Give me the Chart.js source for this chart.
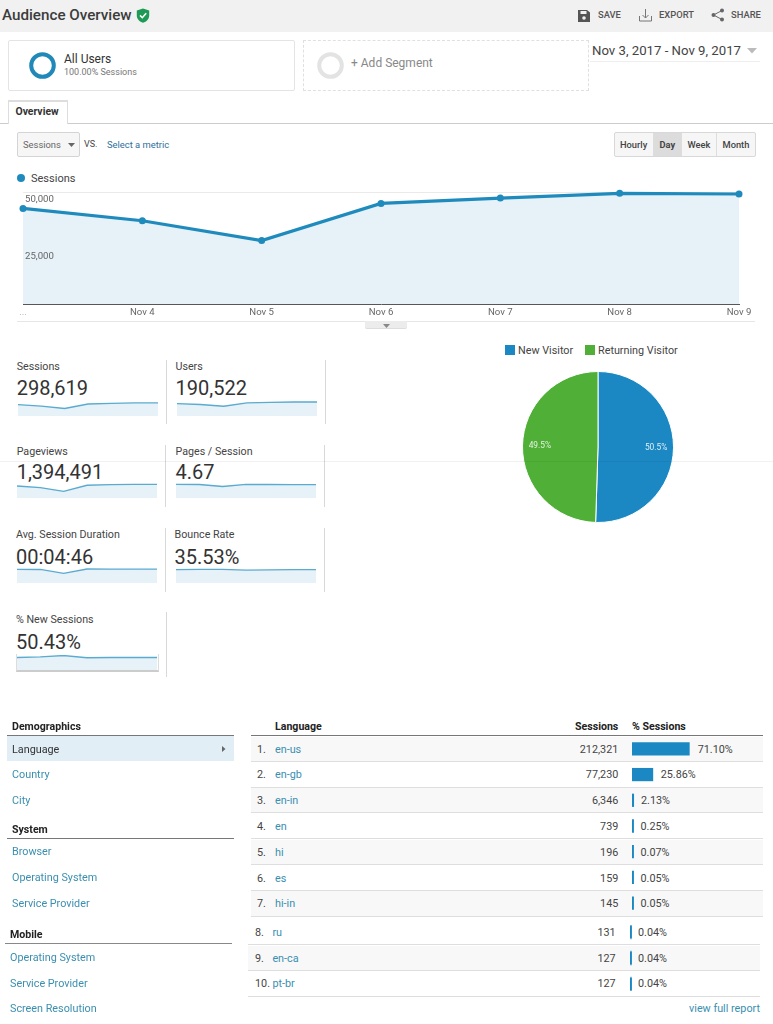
<!DOCTYPE html>
<html>
<head>
<meta charset="utf-8">
<script src="https://cdn.jsdelivr.net/npm/chart.js@4/dist/chart.umd.min.js"></script>
<style>
html,body{margin:0;padding:0;background:#fff;width:773px;height:1024px;overflow:hidden;font-family:Roboto,sans-serif;color:#333}
#page{position:relative;width:773px;height:1024px;overflow:hidden}
.t{position:absolute;white-space:nowrap;transform:translateY(-50%);line-height:1}
.r{transform:translate(-100%,-50%)}
.b{position:absolute;box-sizing:border-box}
canvas{position:absolute;display:block}
svg{position:absolute}
</style>
</head>
<body>
<div id="page"></div>
<script>
// ---------- data ----------
const dayLabels = ['...', 'Nov 4', 'Nov 5', 'Nov 6', 'Nov 7', 'Nov 8', 'Nov 9'];
const sessionsByDay = [42700, 37200, 28400, 44900, 47300, 49400, 49100];
const sessionTicks = [25000, 50000];

const usersByDay = [26400, 24500, 20700, 27800, 29000, 29800, 29700];
const pageviewsByDay = [203000, 175000, 113000, 215000, 226000, 231000, 231000];
const pagesPerSessionByDay = [4.76, 4.72, 4.0, 4.78, 4.70, 4.68, 4.68];
const durationByDay = [292, 290, 205, 298, 296, 296, 297];
const bounceByDay = [35.5, 36.2, 36.4, 34.2, 35.0, 35.6, 35.6];
const newSessionsByDay = [50, 52, 57, 49, 50, 50, 50];

const visitorTypes = ['New Visitor', 'Returning Visitor'];
const visitorShares = [50.5, 49.5];

const languages = ['en-us','en-gb','en-in','en','hi','es','hi-in','ru','en-ca','pt-br'];
const languageSessions = ['212,321','77,230','6,346','739','196','159','145','131','127','127'];
const languageShares = [71.10, 25.86, 2.13, 0.25, 0.07, 0.05, 0.05, 0.04, 0.04, 0.04];

// ---------- helpers ----------
const page = document.getElementById('page');
const BLUE = '#1f8bbd', BAR = '#1b88c4', GREEN = '#50af37', LINK = '#3a8fb0';
function T(x, y, s, css, right) {
  const e = document.createElement('div');
  e.className = 't' + (right ? ' r' : '');
  e.textContent = s;
  e.style.left = x + 'px'; e.style.top = y + 'px';
  e.style.cssText += ';' + (css || '');
  page.appendChild(e); return e;
}
function B(x, y, w, h, css) {
  const e = document.createElement('div');
  e.className = 'b';
  e.style.cssText = `left:${x}px;top:${y}px;width:${w}px;height:${h}px;` + (css || '');
  page.appendChild(e); return e;
}
function S(x, y, w, h, inner, vb) {
  const d = document.createElement('div');
  d.innerHTML = `<svg style="left:${x}px;top:${y}px" width="${w}" height="${h}" viewBox="${vb || '0 0 ' + w + ' ' + h}">${inner}</svg>`;
  page.appendChild(d.firstChild);
}
function C(x, y, w, h) {
  const c = document.createElement('canvas');
  c.style.left = x + 'px'; c.style.top = y + 'px';
  c.style.width = w + 'px'; c.style.height = h + 'px';
  c.width = w; c.height = h;
  page.appendChild(c); return c;
}
Chart.defaults.animation = false;
Chart.defaults.font.family = 'Roboto, sans-serif';

// ---------- header ----------
B(0, 0, 773, 32, 'background:#f1f1f1');
T(2, 15.5, 'Audience Overview', 'font-size:15.2px;font-weight:500;color:#3c3c3c');
S(136, 8, 14, 15, '<path d="M7 0.5 L13.2 2.6 V7.5 C13.2 11 10.5 13.6 7 14.8 C3.5 13.6 0.8 11 0.8 7.5 V2.6 Z" fill="#1d9a55"/><path d="M4 7.4 L6.3 9.7 L10.2 5.2" stroke="#fff" stroke-width="1.6" fill="none"/>');
S(578, 9, 12, 13, '<path d="M0 1 H9 L12 3.5 V13 H0 Z" fill="#555"/><rect x="2.5" y="2" width="6" height="3" fill="#f1f1f1"/><circle cx="6" cy="9" r="1.8" fill="#f1f1f1"/>');
T(598, 15, 'SAVE', 'font-size:9.4px;font-weight:500;color:#555');
S(639, 8, 13, 14, '<path d="M0.5 8 V13 H12.5 V8" stroke="#777" fill="none"/><path d="M6.5 1 V10 M3.5 7 L6.5 10 L9.5 7" stroke="#777" fill="none"/>');
T(659, 15, 'EXPORT', 'font-size:9.4px;font-weight:500;color:#555');
S(711, 8, 13, 14, '<circle cx="11" cy="2.5" r="2" fill="#666"/><circle cx="11" cy="11.5" r="2" fill="#666"/><circle cx="2.5" cy="7" r="2" fill="#666"/><path d="M11 2.5 L2.5 7 L11 11.5" stroke="#666" fill="none"/>');
T(731, 15, 'SHARE', 'font-size:9.4px;font-weight:500;color:#555');

// ---------- segments ----------
B(8, 40, 287, 51, 'border:1px solid #e4e4e4;border-radius:2px');
S(29, 52, 27, 27, '<circle cx="13.5" cy="13.5" r="11.3" fill="none" stroke="#2189b8" stroke-width="4"/>');
T(64, 59, 'All Users', 'font-size:12px;color:#333');
T(64, 72, '100.00% Sessions', 'font-size:9px;color:#777');
B(303, 40, 286, 51, 'border:1px dashed #e0e0e0');
S(317, 52, 27, 27, '<circle cx="13.5" cy="13.5" r="11.3" fill="none" stroke="#e3e3e3" stroke-width="4"/>');
T(351, 63, '+ Add Segment', 'font-size:12px;color:#888');
T(592, 51, 'Nov 3, 2017 - Nov 9, 2017', 'font-size:13.2px;color:#444');
S(747, 48, 11, 6, '<path d="M0 0 H10 L5 5.5 Z" fill="#bbb"/>');
B(590, 61, 170, 1, 'background:#eee');

// ---------- tab and controls ----------
B(0, 123, 773, 1, 'background:#ccc');
B(8, 100, 60, 24, 'background:#fff;border:1px solid #ddd;border-bottom:none;border-top:2px solid #ddd');
T(15.5, 112, 'Overview', 'font-size:10.4px;font-weight:700;color:#333');
B(17, 132, 63, 25, 'background:#f6f6f6;border:1px solid #d4d4d4;border-radius:2px');
T(23, 144.5, 'Sessions', 'font-size:9.4px;color:#666');
S(68, 143, 8, 4, '<path d="M0 0 H7 L3.5 4 Z" fill="#666"/>');
T(84, 144, 'VS.', 'font-size:9px;color:#444');
T(107, 144.5, 'Select a metric', 'font-size:9.4px;color:#2e6f9e');
B(614, 132, 142, 25, 'background:#f6f6f6;border:1px solid #d8d8d8;border-radius:2px');
B(654, 133, 27, 23, 'background:#dcdcdc');
B(653, 133, 1, 23, 'background:#ddd'); B(681, 133, 1, 23, 'background:#ddd'); B(716, 133, 1, 23, 'background:#ddd');
T(620, 144.5, 'Hourly', 'font-size:9.3px;font-weight:500;color:#444');
T(659.5, 144.5, 'Day', 'font-size:9.3px;font-weight:700;color:#444');
T(687.5, 144.5, 'Week', 'font-size:9.3px;font-weight:500;color:#444');
T(722.5, 144.5, 'Month', 'font-size:9.3px;font-weight:500;color:#444');

// ---------- main line chart ----------
B(17, 178 - 4, 8, 8, `background:${BLUE};border-radius:50%`);
T(31, 178, 'Sessions', 'font-size:11px;color:#444');
new Chart(C(0, 165, 773, 165), {
  type: 'line',
  data: { labels: dayLabels, datasets: [{
    data: sessionsByDay, borderColor: BLUE, borderWidth: 3.2, backgroundColor: '#e6f1f8',
    fill: true, tension: 0, pointRadius: 3.5, pointBackgroundColor: BLUE, pointBorderWidth: 0, clip: false
  }]},
  options: {
    responsive: false, maintainAspectRatio: false,
    layout: { padding: { left: 23, right: 34, top: 27, bottom: 0 } },
    plugins: { legend: { display: false }, tooltip: { enabled: false } },
    scales: {
      x: {
        afterFit: s => { s.height = 25.7; },
        grid: { display: false, drawTicks: false },
        border: { color: '#555', width: 1 },
        ticks: { font: { size: 9.6 }, color: ctx => ctx.index === 0 ? '#aaa' : '#666', padding: 3, maxRotation: 0, autoSkip: false }
      },
      y: {
        min: 0, max: 50000,
        afterFit: s => { s.width = 0; },
        afterBuildTicks: s => { s.ticks = [{ value: 0 }].concat(sessionTicks.map(v => ({ value: v }))); },
        grid: { color: ctx => ctx.tick.value === 0 ? 'rgba(0,0,0,0)' : '#eaeaea', drawTicks: false },
        border: { display: false },
        ticks: {
          z: 1, mirror: true, labelOffset: 8, padding: 2, font: { size: 9.6 }, color: '#666',
          callback: v => v === 0 ? '' : v.toLocaleString('en-US')
        }
      }
    }
  }
});
B(17, 321, 738, 1, 'background:#e6e6e6');
B(365, 321, 42, 8, 'background:#ececec;border-bottom:1px solid #ddd;border-radius:0 0 2px 2px');
S(383, 323.5, 7, 4, '<path d="M0 0 H7 L3.5 4 Z" fill="#888"/>');

// ---------- metric tiles ----------
const tiles = [
  ['Sessions', '298,619', 16.7, 367.2, 388, 18.3, 415.7, sessionsByDay, 60000],
  ['Users', '190,522', 175.5, 367.2, 388, 176.7, 415.7, usersByDay, 34000],
  ['Pageviews', '1,394,491', 16.7, 452, 471.5, 17.3, 498.3, pageviewsByDay, 271000],
  ['Pages / Session', '4.67', 175.5, 452, 471.5, 176, 498.3, pagesPerSessionByDay, 5.6],
  ['Avg. Session Duration', '00:04:46', 16, 535, 556.5, 17.3, 583.3, durationByDay, 342],
  ['Bounce Rate', '35.53%', 174.5, 535, 556.5, 176, 583.3, bounceByDay, 42.6],
  ['% New Sessions', '50.43%', 16, 619.5, 641.5, 17, 670.5, newSessionsByDay, 59]
];
tiles.forEach(([label, value, x, ly, vy, sx, sb, data, max]) => {
  T(x, ly, label, 'font-size:10.7px;color:#444');
  T(x, vy, value, 'font-size:20px;color:#333');
  new Chart(C(sx, sb - 16, 140, 16), {
    type: 'line',
    data: { labels: dayLabels, datasets: [{
      data, borderColor: '#5aabd0', borderWidth: 1.4, backgroundColor: '#e6f1f8',
      fill: true, tension: 0, pointRadius: 0, clip: false
    }]},
    options: {
      responsive: false, maintainAspectRatio: false,
      plugins: { legend: { display: false }, tooltip: { enabled: false } },
      scales: { x: { display: false }, y: { display: false, min: 0, max } }
    }
  });
});
B(16, 654, 143, 18, 'border:1px solid #ddd;border-top:none;border-bottom:2px solid #ccc');
[[166,360,64],[325,360,64],[165,445,62],[324,445,62],[165,528,64],[324,528,64],[165.5,612,65]].forEach(
  ([x, y, h]) => B(x, y, 1, h, 'background:#d8d8d8'));

// ---------- pie ----------
B(505, 345, 9.5, 9.5, `background:${BAR}`);
T(518, 350.5, visitorTypes[0], 'font-size:10.8px;color:#444');
B(585, 345, 9.5, 9.5, `background:${GREEN}`);
T(598, 350.5, visitorTypes[1], 'font-size:10.8px;color:#444');
new Chart(C(518, 367, 160, 160), {
  type: 'pie',
  data: { labels: visitorTypes, datasets: [{ data: visitorShares, backgroundColor: [BAR, GREEN], borderColor: '#fff', borderWidth: 1 }] },
  options: {
    responsive: false, maintainAspectRatio: false,
    layout: { padding: 4 },
    plugins: { legend: { display: false }, tooltip: { enabled: false } }
  },
  plugins: [{
    id: 'sliceLabels',
    afterDatasetsDraw(chart) {
      const g = chart.ctx, meta = chart.getDatasetMeta(0);
      g.save();
      g.font = '8.4px Roboto'; g.fillStyle = 'rgba(255,255,255,.85)';
      g.textAlign = 'center'; g.textBaseline = 'middle';
      meta.data.forEach((a, i) => {
        const mid = (a.startAngle + a.endAngle) / 2, r = a.outerRadius * 0.77;
        g.fillText(visitorShares[i].toFixed(1) + '%', a.x + Math.cos(mid) * r, a.y + Math.sin(mid) * r);
      });
      g.restore();
    }
  }]
});

// ---------- left navigation ----------
const NAV = 'font-size:10.8px;color:' + LINK;
const HEAD = 'font-size:10.6px;font-weight:700;color:#222';
T(12, 726.5, 'Demographics', HEAD);
B(7.4, 735, 227, 1, 'background:#777');
B(7.4, 736, 227, 25, 'background:#e1eef6');
T(12, 749.5, 'Language', 'font-size:10.8px;color:#333');
S(221.5, 745.5, 4, 6, '<path d="M0 0 L3.5 3 L0 6 Z" fill="#666"/>');
T(12, 775.2, 'Country', NAV);
T(12, 800.8, 'City', NAV);
T(12, 829.8, 'System', HEAD);
B(7.4, 838, 227, 1, 'background:#777');
T(12, 852.2, 'Browser', NAV);
T(12, 878, 'Operating System', NAV);
T(12, 903.8, 'Service Provider', NAV);
T(10, 935.2, 'Mobile', HEAD);
B(5, 943.3, 227, 1, 'background:#888');
T(10, 957.8, 'Operating System', NAV);
T(10, 983.5, 'Service Provider', NAV);
T(10, 1009.2, 'Screen Resolution', NAV);

// ---------- language table ----------
T(275, 726.5, 'Language', HEAD);
T(618.3, 726.5, 'Sessions', HEAD, true);
T(632, 726.5, '% Sessions', HEAD);
B(250.5, 735, 512.5, 1, 'background:#777');
const rowCentres = [749, 774.7, 800.4, 826.2, 852, 878, 903.7, 932.3, 958, 983.7];
const pctLeft = [697.7, 660.7, 641, 640.5, 640.5, 640.5, 640.5, 638, 638, 638];
languages.forEach((lang, i) => {
  const y = rowCentres[i], lower = i >= 7, dx = lower ? -2.6 : 0, ty = y + 0.5;
  if (i % 2 === 0) B(250.5 + dx, y - 12.5, 512.5, 25, 'background:#f8f8f8');
  B(250.5 + dx, y + 11.8, 512.5, 1.2, 'background:#dedede');
  T(257 + (lower ? -2 : 0), ty, (i + 1) + '.', 'font-size:10.8px;color:#444');
  T(275 + dx, ty, lang, 'font-size:10.8px;color:' + LINK);
  T(618.3 + dx, ty, languageSessions[i], 'font-size:10.8px;color:#444', true);
  T(pctLeft[i], ty, languageShares[i].toFixed(2) + '%', 'font-size:10.8px;color:#444');
});
B(250.5, 915.5, 512.5, 1.2, 'background:#dedede');
T(760, 1009, 'view full report', 'font-size:10.8px;color:' + LINK, true);

function shareBars(x, y, labels, values) {
  return new Chart(C(x, y, 60, labels.length * 25.75), {
    type: 'bar',
    data: { labels, datasets: [{ data: values, backgroundColor: BAR, barThickness: 12.6, minBarLength: 1.6, borderWidth: 0 }] },
    options: {
      indexAxis: 'y', responsive: false, maintainAspectRatio: false,
      plugins: { legend: { display: false }, tooltip: { enabled: false } },
      scales: { x: { display: false, min: 0, max: 74.4 }, y: { display: false } }
    }
  });
}
shareBars(632, 736.1, languages.slice(0, 7), languageShares.slice(0, 7));
shareBars(629.7, 919.4, languages.slice(7), languageShares.slice(7));

// faint seam across the photographed page
B(0, 460.5, 773, 1.6, 'background:rgba(0,0,0,.055);z-index:5');
</script>
</body>
</html>
